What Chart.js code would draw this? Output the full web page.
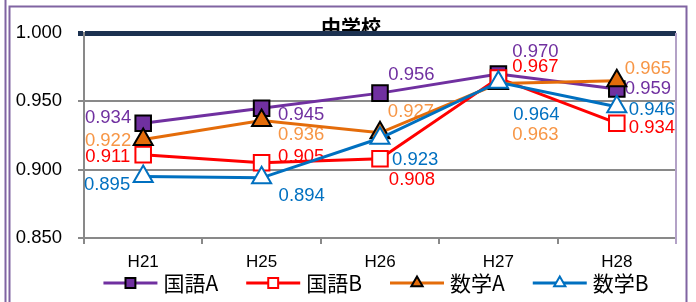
<!DOCTYPE html>
<html><head><meta charset="utf-8">
<script src="https://cdn.jsdelivr.net/npm/chart.js@4/dist/chart.umd.min.js"></script>
<style>html,body{margin:0;padding:0;background:#fff;}canvas{display:block}</style>
</head><body>
<canvas id="c" width="696" height="302"></canvas>
<script>
// ---- data ----
const categories = ['H21', 'H25', 'H26', 'H27', 'H28'];
const seriesNames = ['国語A', '国語B', '数学A', '数学B'];
const kokugoA = [0.934, 0.945, 0.956, 0.970, 0.959];
const kokugoB = [0.911, 0.905, 0.908, 0.967, 0.934];
const sugakuA = [0.922, 0.936, 0.927, 0.963, 0.965];
const sugakuB = [0.895, 0.894, 0.923, 0.964, 0.946];
const yTicks = [0.850, 0.900, 0.950, 1.000];
const chartTitle = '中学校';

// ---- styles ----
const NUM_FONT = '"Liberation Sans", Arial, sans-serif';
const JP_FONT = '"Noto Sans CJK JP", sans-serif';
const GRID = '#898989';
const NAVY = '#1c3150';
const FRAME = '#8064a2';

// label placement per series / point: [align, dx, dy]
const labelPlacement = [
  [['right', -12, -5], ['left', 16.5, 7], ['center', 31.5, -18], ['center', 37, -22.5], ['left', 8, 0]],
  [['right', -13, 2], ['left', 16.5, -6], ['center', 32, 21], ['center', 37, -11.6], ['left', 12, 5]],
  [['right', -12, 1], ['left', 16.5, 14.5], ['center', 31, -21], ['center', 37, 51], ['left', 8, -12]],
  [['right', -13, 8.5], ['left', 17, 17.6], ['left', 12, 22], ['center', 38, 33], ['left', 12, 3]]
];
const labelColors = ['#7030a0', '#ff0000', '#f79646', '#0070c0'];

const framePlugin = {
  id: 'frame',
  beforeDraw(chart) {
    const ctx = chart.ctx, a = chart.chartArea;
    ctx.save();
    ctx.fillStyle = '#fff';
    ctx.fillRect(0, 0, chart.width, chart.height);
    ctx.font = 'bold 20px ' + JP_FONT;
    ctx.fillStyle = '#000';
    ctx.textAlign = 'center';
    ctx.textBaseline = 'alphabetic';
    ctx.fillText(chartTitle, 351, 35);
    ctx.fillStyle = '#fff';
    ctx.fillRect(a.left, a.top, a.right - a.left, a.bottom - a.top);
    ctx.strokeStyle = FRAME;
    ctx.lineWidth = 2;
    ctx.beginPath();
    ctx.moveTo(5.5, 0); ctx.lineTo(5.5, chart.height);
    ctx.moveTo(9.5, chart.height); ctx.lineTo(9.5, 6.5); ctx.lineTo(686.5, 6.5); ctx.lineTo(686.5, chart.height);
    ctx.stroke();
    ctx.restore();
  },
  beforeDatasetsDraw(chart) {
    const ctx = chart.ctx, a = chart.chartArea;
    ctx.save();
    ctx.strokeStyle = '#b3a2c7';
    ctx.lineWidth = 2;
    ctx.beginPath();
    ctx.moveTo(a.right, a.top); ctx.lineTo(a.right, a.bottom + 6);
    ctx.stroke();
    // data labels (drawn beneath the lines)
    ctx.font = '18.5px ' + NUM_FONT;
    ctx.textBaseline = 'middle';
    chart.data.datasets.forEach((ds, i) => {
      const meta = chart.getDatasetMeta(i);
      meta.data.forEach((pt, j) => {
        const [align, dx, dy] = labelPlacement[i][j];
        ctx.textAlign = align;
        ctx.fillStyle = labelColors[i];
        ctx.fillText(ds.data[j].toFixed(3), pt.x + dx, pt.y + dy);
      });
    });
    ctx.restore();
  }
};

function marker(ctx, style, x, y, r) {
  ctx.beginPath();
  if (style === 'rect') {
    const s = r * Math.SQRT1_2;
    ctx.rect(x - s, y - s, 2 * s, 2 * s);
  } else {
    ctx.moveTo(x, y - r);
    ctx.lineTo(x + r * Math.sin(Math.PI / 3), y + r * 0.5);
    ctx.lineTo(x - r * Math.sin(Math.PI / 3), y + r * 0.5);
    ctx.closePath();
  }
  ctx.fill();
  ctx.stroke();
}

const legendPlugin = {
  id: 'customLegend',
  afterDraw(chart) {
    const ctx = chart.ctx;
    ctx.save();
    ctx.font = '21px ' + JP_FONT;
    const lineLen = 54, gap = 6, spacing = 28, y = 283;
    const items = chart.data.datasets.map(ds => ({ ds, w: ctx.measureText(ds.label).width }));
    const total = items.reduce((s, it) => s + lineLen + gap + it.w, 0) + spacing * (items.length - 1);
    let x = 376 - total / 2;
    items.forEach(it => {
      const ds = it.ds;
      ctx.strokeStyle = ds.borderColor;
      ctx.lineWidth = 3;
      ctx.beginPath(); ctx.moveTo(x, y); ctx.lineTo(x + lineLen, y); ctx.stroke();
      ctx.fillStyle = ds.pointBackgroundColor;
      ctx.strokeStyle = ds.pointBorderColor;
      ctx.lineWidth = 2;
      marker(ctx, ds.pointStyle, x + lineLen / 2, y, ds.pointStyle === 'rect' ? 7 : 6.5);
      ctx.fillStyle = '#000';
      ctx.textAlign = 'left';
      ctx.textBaseline = 'middle';
      ctx.fillText(ds.label, x + lineLen + gap, y);
      x += lineLen + gap + it.w + spacing;
    });
    ctx.restore();
  }
};

new Chart(document.getElementById('c'), {
  type: 'line',
  data: {
    labels: categories,
    datasets: [
      { label: seriesNames[0], data: kokugoA, borderColor: '#7030a0', backgroundColor: '#7030a0',
        pointStyle: 'rect', pointBackgroundColor: '#7030a0', pointBorderColor: '#000', order: 4 },
      { label: seriesNames[1], data: kokugoB, borderColor: '#ff0000', backgroundColor: '#ff0000',
        pointStyle: 'rect', pointBackgroundColor: '#fff', pointBorderColor: '#ff0000', order: 3 },
      { label: seriesNames[2], data: sugakuA, borderColor: '#e46c0a', backgroundColor: '#e46c0a',
        pointStyle: 'triangle', pointBackgroundColor: '#e46c0a', pointBorderColor: '#000', order: 2 },
      { label: seriesNames[3], data: sugakuB, borderColor: '#0070c0', backgroundColor: '#0070c0',
        pointStyle: 'triangle', pointBackgroundColor: '#fff', pointBorderColor: '#0070c0', order: 1 }
    ]
  },
  options: {
    responsive: false,
    animation: false,
    devicePixelRatio: 1,
    layout: { padding: { left: 0, right: 20, top: 33, bottom: 0 } },
    plugins: { legend: { display: false }, title: { display: false }, tooltip: { enabled: false } },
    elements: {
      line: { borderWidth: 3, tension: 0, fill: false },
      point: { radius: 11, hoverRadius: 11, borderWidth: 2, hoverBorderWidth: 2 }
    },
    scales: {
      x: {
        offset: true,
        grid: { offset: true, drawOnChartArea: false, color: GRID, lineWidth: 2, tickLength: 6 },
        border: { color: GRID, width: 2 },
        ticks: { color: '#000', font: { family: NUM_FONT, size: 17 }, padding: 8 },
        afterFit(s) { s.height = 64; }
      },
      y: {
        min: 0.85, max: 1.0,
        afterBuildTicks(s) { s.ticks = yTicks.map(v => ({ value: v })); },
        ticks: { color: '#000', font: { family: NUM_FONT, size: 18.5 }, padding: 16,
                 callback: v => Number(v).toFixed(3) },
        grid: {
          color: c => (c.tick && Math.abs(c.tick.value - 1) < 1e-9) ? NAVY : GRID,
          lineWidth: c => (c.tick && Math.abs(c.tick.value - 1) < 1e-9) ? 5 : 2,
          tickLength: 6
        },
        border: { color: GRID, width: 2 },
        afterFit(s) { s.width = 84; }
      }
    }
  },
  plugins: [framePlugin, legendPlugin]
});
</script>
</body></html>
